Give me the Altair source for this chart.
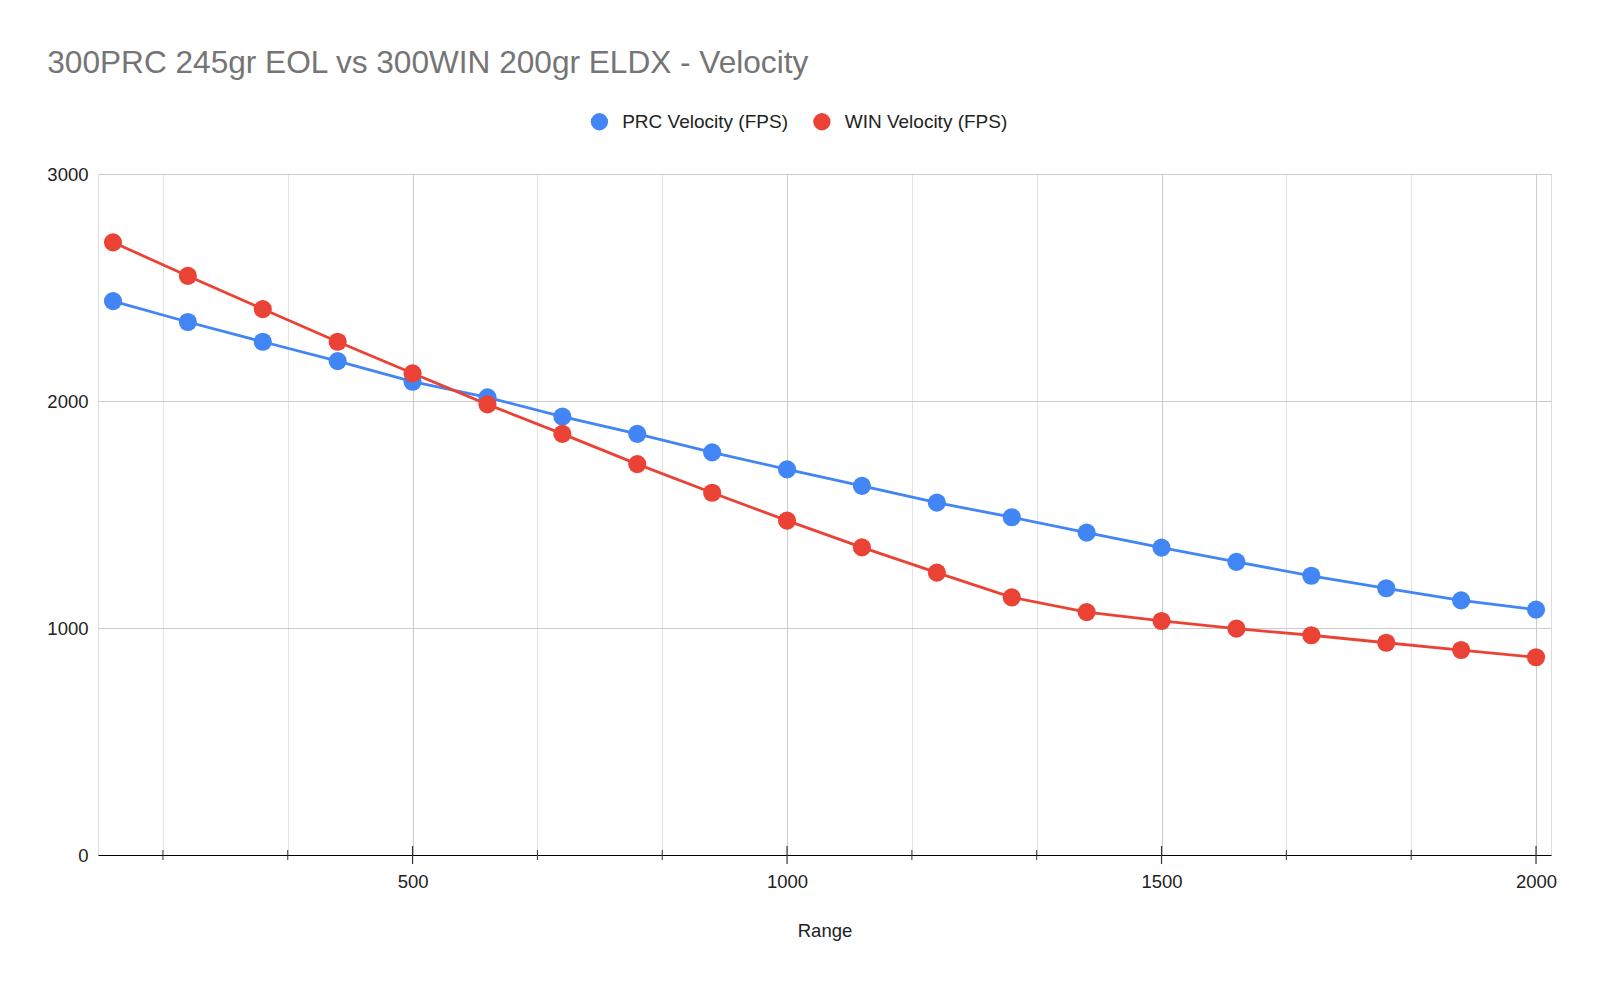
import altair as alt
import pandas as pd

ranges = [100, 200, 300, 400, 500, 600, 700, 800, 900, 1000,
          1100, 1200, 1300, 1400, 1500, 1600, 1700, 1800, 1900, 2000]
prc_velocity = [2440, 2348, 2261, 2176, 2085, 2016, 1931, 1855, 1774, 1699,
                1626, 1552, 1488, 1420, 1354, 1291, 1230, 1175, 1122, 1081]
win_velocity = [2699, 2551, 2405, 2261, 2122, 1985, 1855, 1722, 1596, 1473,
                1355, 1244, 1135, 1070, 1031, 997, 968, 935, 903, 871]
series_names = ["PRC Velocity (FPS)", "WIN Velocity (FPS)"]
series_colors = ["#4285F4", "#EA4335"]

x_major_ticks = [500, 1000, 1500, 2000]
x_minor_ticks = [166.667, 333.333, 666.667, 833.333, 1166.667, 1333.333,
                 1666.667, 1833.333]
y_ticks = [0, 1000, 2000, 3000]

FONT = "Liberation Sans"
W, H = 1453, 681

rows = []
for name, vals in zip(series_names, [prc_velocity, win_velocity]):
    for r, v in zip(ranges, vals):
        rows.append({"Range": r, "Velocity": v, "Series": name})
df = pd.DataFrame(rows)

all_ticks = sorted(x_major_ticks + x_minor_ticks)

x_enc = alt.X(
    "Range:Q",
    scale=alt.Scale(domain=[80, 2020], nice=False, zero=False),
    axis=alt.Axis(
        values=all_ticks,
        labelExpr="datum.value % 500 === 0 ? format(datum.value, 'd') : ''",
        ticks=False,
        grid=True,
        gridColor={"condition": {"test": "datum.value % 500 === 0", "value": "#cccccc"},
                   "value": "#e3e3e3"},
        gridWidth=1,
        domainColor="#000000",
        domainWidth=1.2,
        labelFont=FONT, labelFontSize=18.5, labelColor="#222222",
        labelPadding=17,
        title="Range", titleFont=FONT, titleFontSize=18.5, titleFontWeight="normal",
        titleColor="#222222", titlePadding=31,
    ),
)
y_enc = alt.Y(
    "Velocity:Q",
    scale=alt.Scale(domain=[0, 3000], nice=False),
    axis=alt.Axis(
        values=y_ticks, format="d", ticks=False, domain=False,
        grid=True, gridColor="#cccccc", gridWidth=1,
        labelFont=FONT, labelFontSize=18.5, labelColor="#222222",
        labelPadding=10, title=None,
    ),
)
color_scale = alt.Scale(domain=series_names, range=series_colors)

line_layers = []
for name, col in zip(series_names, series_colors):
    line_layers.append(
        alt.Chart(df).transform_filter(alt.datum.Series == name)
        .mark_line(strokeWidth=2.8, color=col)
        .encode(x=x_enc, y=y_enc, order=alt.Order("Range:Q"))
    )

points = alt.Chart(df).mark_point(filled=True, size=330, opacity=1).encode(
    x=x_enc, y=y_enc,
    color=alt.Color(
        "Series:N", scale=color_scale,
        legend=alt.Legend(
            title=None, orient="none", direction="horizontal",
            legendX=491.9, legendY=-62, symbolType="circle", symbolSize=300,
            symbolStrokeWidth=0, symbolOpacity=1, labelFont=FONT, labelFontSize=19,
            labelColor="#222222", labelOffset=13.3, columnPadding=23.5, padding=0,
            labelLimit=500,
        ),
    ),
)

tick_df_major = pd.DataFrame({"Range": x_major_ticks})
tick_df_minor = pd.DataFrame({"Range": x_minor_ticks})
major_ticks = alt.Chart(tick_df_major).mark_rule(color="#333333", strokeWidth=1.2).encode(
    x=alt.X("Range:Q"), y=alt.value(H - 9), y2=alt.value(H + 9)
)
minor_ticks = alt.Chart(tick_df_minor).mark_rule(color="#333333", strokeWidth=1).encode(
    x=alt.X("Range:Q"), y=alt.value(H - 5), y2=alt.value(H + 5)
)

chart = alt.layer(*line_layers, points, major_ticks, minor_ticks).properties(
    width=W, height=H,
    title=alt.TitleParams(
        "300PRC 245gr EOL vs 300WIN 200gr ELDX - Velocity",
        anchor="start", frame="group", dx=-50.7, offset=32,
        font=FONT, fontSize=31.6, fontWeight="normal", color="#757575",
    ),
    padding={"left": 90, "top": 166, "right": 40, "bottom": 100},
    autosize=alt.AutoSizeParams(type="none"),
).configure_view(stroke=None).configure(background="white")

chart.save("out.html", embed_options={"renderer": "svg", "actions": False})
